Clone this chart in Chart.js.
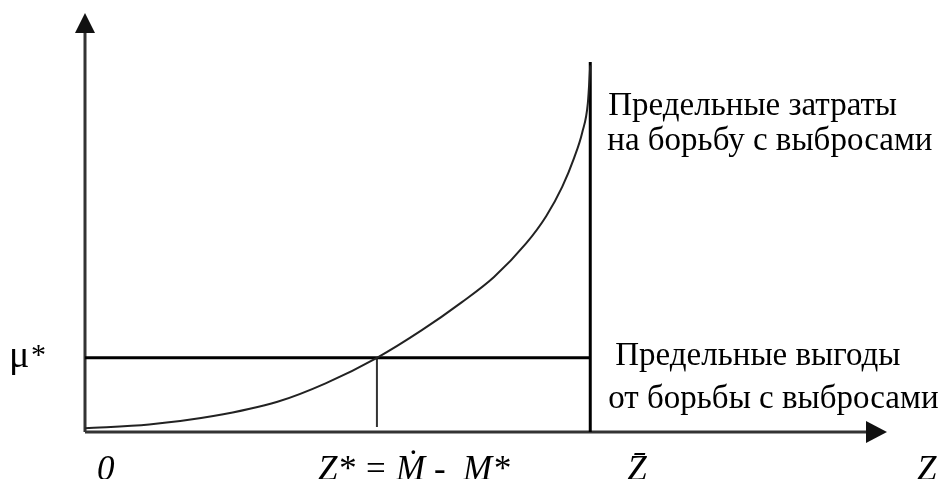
<!DOCTYPE html>
<html>
<head>
<meta charset="utf-8">
<script src="https://cdn.jsdelivr.net/npm/chart.js@4/dist/chart.umd.min.js"></script>
<style>
  html, body { margin: 0; padding: 0; background: #fff; }
  #wrap { width: 942px; height: 479px; }
</style>
</head>
<body>
<div id="wrap"><canvas id="chart"></canvas></div>
<script>
// marginal abatement cost curve (Z, mu)
const curveZ = [0, 8, 16, 24, 30, 36.4, 42, 47, 51, 55, 57.5, 59.5, 61, 62, 62.7, 63.0];
const curveMu = [0.9, 1.8, 3.8, 7.2, 11.6, 17.7, 24.3, 31.0, 37.0, 45.0, 51.5, 58.5, 65.5, 71.5, 78.5, 87.5];

const zStar = 36.4;   // Z* = M - M*
const zBar = 63.0;    // maximum abatement
const muStar = 17.7;  // marginal benefit level
const zMax = 100;
const muMax = 100;

const xTickValues = [0, zStar, zBar, zMax];
const xTickLabels = ["0", "Z* = Ṁ -  M*", "Z̄", "Z"];

const costLabel = ["Предельные затраты", "на борьбу с выбросами"];
const benefitLabel = ["Предельные выгоды", "от борьбы с выбросами"];
const yLabel = ["μ", "*"];

const curvePoints = curveZ.map((z, i) => ({ x: z, y: curveMu[i] }));

const serif = "'Liberation Serif', 'Times New Roman', serif";

const axesPlugin = {
  id: "axes",
  beforeDatasetsDraw(chart) {
    const { ctx, scales: { x, y } } = chart;
    const x0 = x.getPixelForValue(0);
    const y0 = y.getPixelForValue(0);
    const xEnd = x.getPixelForValue(zMax);
    const yEnd = y.getPixelForValue(muMax);
    ctx.save();
    ctx.strokeStyle = "#333";
    ctx.fillStyle = "#111";
    ctx.lineWidth = 3;
    ctx.beginPath();
    ctx.moveTo(x0, y0);
    ctx.lineTo(xEnd - 18, y0);
    ctx.moveTo(x0, y0);
    ctx.lineTo(x0, yEnd + 18);
    ctx.stroke();
    // arrow heads
    ctx.beginPath();
    ctx.moveTo(xEnd, y0);
    ctx.lineTo(xEnd - 21, y0 - 11);
    ctx.lineTo(xEnd - 21, y0 + 11);
    ctx.closePath();
    ctx.fill();
    ctx.beginPath();
    ctx.moveTo(x0, yEnd);
    ctx.lineTo(x0 - 10, yEnd + 20);
    ctx.lineTo(x0 + 10, yEnd + 20);
    ctx.closePath();
    ctx.fill();
    ctx.restore();
  },
  afterDraw(chart) {
    const { ctx, scales: { x, y } } = chart;
    ctx.save();
    ctx.fillStyle = "#000";
    ctx.textBaseline = "alphabetic";
    ctx.textAlign = "left";

    // x labels under the axis
    ctx.font = "italic 35px " + serif;
    const offsets = [12, -59, 37, 30];
    xTickLabels.forEach((t, i) => {
      ctx.fillText(t, x.getPixelForValue(xTickValues[i]) + offsets[i], 480);
    });

    // mu* on the y side
    const ym = y.getPixelForValue(muStar);
    ctx.font = "38px " + serif;
    ctx.fillText(yLabel[0], 9, ym + 9);
    ctx.font = "30px " + serif;
    ctx.fillText(yLabel[1], 31, ym + 6);

    // curve captions
    ctx.font = "33px " + serif;
    const xb = x.getPixelForValue(zBar);
    ctx.fillText(costLabel[0], xb + 18, 115);
    ctx.fillText(costLabel[1], xb + 17, 150);
    ctx.fillText(benefitLabel[0], xb + 25, 365);
    ctx.fillText(benefitLabel[1], xb + 18, 408);
    ctx.restore();
  }
};

new Chart(document.getElementById("chart"), {
  type: "scatter",
  data: {
    datasets: [
      {
        label: "Предельные затраты",
        data: curvePoints,
        showLine: true,
        borderColor: "#222",
        borderWidth: 2,
        pointRadius: 0,
        cubicInterpolationMode: "monotone",
      },
      {
        label: "Предельные выгоды",
        data: [{ x: 0, y: muStar }, { x: zBar, y: muStar }],
        showLine: true,
        borderColor: "#000",
        borderWidth: 3,
        pointRadius: 0,
      },
      {
        label: "Z*",
        data: [{ x: zStar, y: muStar }, { x: zStar, y: 1.2 }],
        showLine: true,
        borderColor: "#333",
        borderWidth: 2,
        pointRadius: 0,
      },
      {
        label: "Z bar",
        data: [{ x: zBar, y: 0 }, { x: zBar, y: 88.3 }],
        showLine: true,
        borderColor: "#000",
        borderWidth: 3,
        pointRadius: 0,
      },
    ],
  },
  options: {
    responsive: true,
    maintainAspectRatio: false,
    animation: false,
    layout: { padding: { left: 85, right: 55, top: 13, bottom: 47 } },
    plugins: { legend: { display: false }, tooltip: { enabled: false } },
    scales: {
      x: { type: "linear", min: 0, max: zMax, display: false },
      y: { type: "linear", min: 0, max: muMax, display: false },
    },
  },
  plugins: [axesPlugin],
});
</script>
</body>
</html>
